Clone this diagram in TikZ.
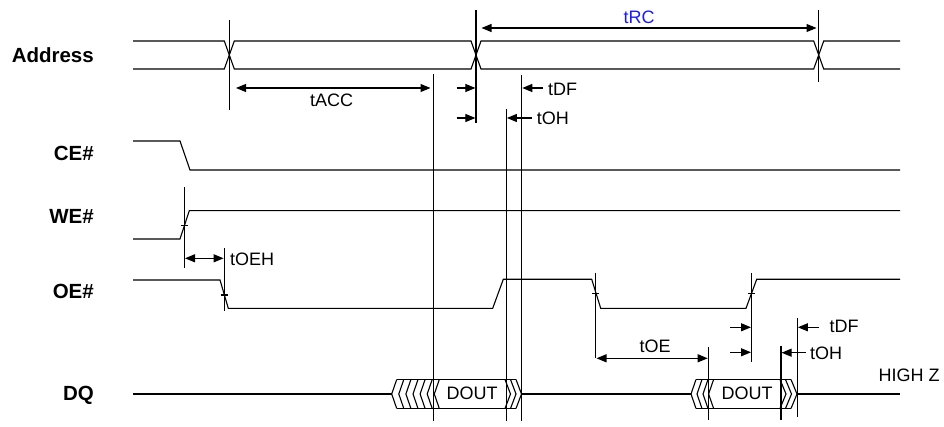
\documentclass[tikz,border=0pt]{standalone}
\usepackage{fontspec}
\setmainfont{Liberation Sans}
\usetikzlibrary{arrows.meta}
\definecolor{tblue}{RGB}{25,25,255}
\begin{document}
\begin{tikzpicture}[x=1pt,y=-1pt,
  sig/.style={line width=1.1pt, line join=miter},
  thin/.style={line width=1.1pt},
  dimboth/.style={line width=1.1pt, {Triangle[length=10pt,width=8pt]}-{Triangle[length=10pt,width=8pt]}},
  dimone/.style={line width=1.1pt, -{Triangle[length=10pt,width=8pt]}},
  lbl/.style={font=\fontsize{18}{20}\selectfont, inner sep=0pt, text height=12.9pt, text depth=0pt},
  sname/.style={font=\bfseries\fontsize{20.5}{23}\selectfont, inner sep=0pt, text height=14.7pt, text depth=0pt, anchor=east},
  tick/.style={line width=1.1pt}]
\useasboundingbox (0,0) rectangle (944,427);

% ---------- signal names
\node[sname] (nAddr) at (94,55) {Address};
\node[sname] (nCE) at (94,153) {CE\#};
\node[sname] (nWE) at (94,216) {WE\#};
\node[sname] (nOE) at (94,291) {OE\#};
\node[sname] (nDQ) at (94,393) {DQ};

% ---------- Address bus
\draw[sig] (133,41) -- (224.3,41) -- (229.3,55) -- (224.3,69) -- (133,69);
\draw[sig] (234.3,41) -- (471,41) -- (476,55) -- (471,69) -- (234.3,69) -- (229.3,55) -- cycle;
\draw[sig] (481,41) -- (813.7,41) -- (818.7,55) -- (813.7,69) -- (481,69) -- (476,55) -- cycle;
\draw[sig] (900,41) -- (823.7,41) -- (818.7,55) -- (823.7,69) -- (900,69);

% crossing verticals
\coordinate (a1t) at (229.3,20);  \coordinate (a1b) at (229.3,110);
\coordinate (a2t) at (476,10);    \coordinate (a2b) at (476,123);
\coordinate (a3t) at (818.7,10);  \coordinate (a3b) at (818.7,82);
\draw[thin] (a1t) -- (a1b);
\draw[thin] (a2t) -- (a2b);
\draw[thin] (a3t) -- (a3b);

% long verticals
\coordinate (vACCt) at (433.3,74);  \coordinate (vACCb) at (433.3,421);
\coordinate (vOHt) at (506.3,109);  \coordinate (vOHb) at (506.3,421);
\coordinate (vDFt) at (521.7,75);   \coordinate (vDFb) at (521.7,421);
\draw[thin] (vACCt) -- (vACCb);
\draw[thin] (vOHt) -- (vOHb);
\draw[thin] (vDFt) -- (vDFb);

% tRC
\coordinate (rcL) at (481.5,28); \coordinate (rcR) at (816.5,28);
\draw[dimboth] (rcL) -- (rcR);
\node[lbl, text=tblue] (ltRC) at (639,17) {tRC};

% tACC
\coordinate (accL) at (236,88); \coordinate (accR) at (430.5,88);
\draw[dimboth] (accL) -- (accR);
\node[lbl] (ltACC) at (331.7,100.5) {tACC};

% tDF / tOH (address side)
\coordinate (df1s) at (456.7,88);  \coordinate (df1e) at (475.4,88);
\coordinate (oh1s) at (456.7,118); \coordinate (oh1e) at (475.4,118);
\draw[dimone] (df1s) -- (df1e);
\draw[dimone] (oh1s) -- (oh1e);
\coordinate (df2s) at (543,88);    \coordinate (df2e) at (522.3,88);
\coordinate (oh2s) at (531.7,118); \coordinate (oh2e) at (506.9,118);
\draw[dimone] (df2s) -- (df2e);
\draw[dimone] (oh2s) -- (oh2e);
\node[lbl, anchor=west] (ltDF1) at (548,89) {tDF};
\node[lbl, anchor=west] (ltOH1) at (536.7,118.5) {tOH};

% ---------- CE#
\draw[sig] (133,141) -- (180,141) -- (190,170) -- (900,170);

% ---------- WE#
\draw[sig] (133,239) -- (180,239) -- (189.3,210.7) -- (900,210.7);
\coordinate (weT) at (184.3,187); \coordinate (weB) at (184.3,268);
\draw[thin] (weT) -- (weB);
\draw[tick] (181,225.7) -- (188,225.7);

% tOEH
\coordinate (oehL) at (185,258.3); \coordinate (oehR) at (223.6,258.3);
\draw[dimboth] (oehL) -- (oehR);
\node[lbl, anchor=west] (ltOEH) at (230,259) {tOEH};

% ---------- OE#
\draw[sig] (133,280) -- (220,280) -- (228.3,308.3) -- (492.7,308.3) -- (503.3,279.3)
  -- (591.7,279.3) -- (600.7,308.3) -- (746,308.3) -- (756.7,279.3) -- (900,279.3);
\coordinate (oe1t) at (224.3,248); \coordinate (oe1b) at (224.3,311);
\draw[thin] (oe1t) -- (oe1b);
\draw[tick] (220.8,295) -- (227.8,295);
\coordinate (oe2t) at (595.9,273); \coordinate (oe2b) at (595.9,358.3);
\draw[thin] (oe2t) -- (oe2b);
\draw[tick] (592.4,293.5) -- (599.4,293.5);
\coordinate (oe3t) at (751.6,273); \coordinate (oe3b) at (751.6,361.7);
\draw[thin] (oe3t) -- (oe3b);
\draw[tick] (748.1,293.5) -- (755.1,293.5);

% tOE
\coordinate (vOEt) at (708.3,346.7); \coordinate (vOEb) at (708.3,420);
\draw[thin] (vOEt) -- (vOEb);
\coordinate (oeL) at (596.5,358.3); \coordinate (oeR) at (707.7,358.3);
\draw[dimboth] (oeL) -- (oeR);
\node[lbl] (ltOE) at (655,346) {tOE};

% tDF / tOH (OE side)
\coordinate (vDF2t) at (797.3,318); \coordinate (vDF2b) at (797.3,417);
\coordinate (vOH2t) at (781,345.7); \coordinate (vOH2b) at (781,420);
\draw[thin] (vDF2t) -- (vDF2b);
\draw[thin] (vOH2t) -- (vOH2b);
\coordinate (df3s) at (730,327.3); \coordinate (df3e) at (751,327.3);
\coordinate (oh3s) at (730,352.3); \coordinate (oh3e) at (751,352.3);
\draw[dimone] (df3s) -- (df3e);
\draw[dimone] (oh3s) -- (oh3e);
\coordinate (df4s) at (819,327.3); \coordinate (df4e) at (797.9,327.3);
\coordinate (oh4s) at (805.7,352.7); \coordinate (oh4e) at (781.6,352.7);
\draw[dimone] (df4s) -- (df4e);
\draw[dimone] (oh4s) -- (oh4e);
\node[lbl, anchor=west] (ltDF2) at (829.3,326.5) {tDF};
\node[lbl, anchor=west] (ltOH2) at (810,353) {tOH};

% ---------- DQ
\draw[sig] (133,394) -- (391.7,394);
% block 1
\foreach \v in {391.7,398.8,405.9,413.0,420.1,427.2,434.3}
  \draw[sig] (\v+5,379.5) -- (\v,394) -- (\v+5,408.5);
\draw[sig] (396.7,379.5) -- (516,379.5);
\draw[sig] (396.7,408.5) -- (516,408.5);
\foreach \v in {510.5,516,521.5}
  \draw[sig] (\v-5.5,379.5) -- (\v,394) -- (\v-5.5,408.5);
\node[lbl] (lDOUT1) at (472,393) {DOUT};
\draw[sig] (521.5,394) -- (691,394);
% block 2
\foreach \v in {691,697,703,708.6}
  \draw[sig] (\v+5,379.5) -- (\v,394) -- (\v+5,408.5);
\draw[sig] (696,379.5) -- (791,379.5);
\draw[sig] (696,408.5) -- (791,408.5);
\foreach \v in {786,791.5,797}
  \draw[sig] (\v-6,379.5) -- (\v,394) -- (\v-6,408.5);
\node[lbl] (lDOUT2) at (747,393) {DOUT};
\draw[sig] (797,394) -- (900,394);

\node[lbl] (lHZ) at (909,375) {HIGH Z};
\end{tikzpicture}
\end{document}
